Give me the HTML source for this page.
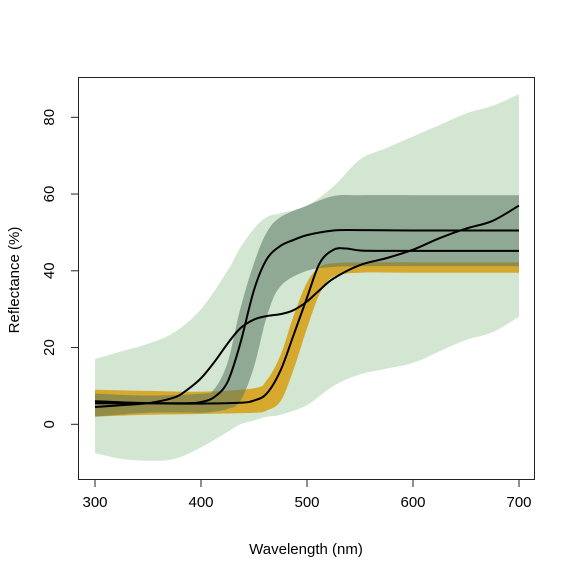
<!DOCTYPE html>
<html><head><meta charset="utf-8"><style>
body{margin:0;background:#fff}
svg{display:block;font-family:"Liberation Sans",Arial,sans-serif}
</style></head><body>
<svg id="chart" width="576" height="576" viewBox="0 0 576 576">
<g id="bands"></g>
<g id="lines"></g>
<rect x="78.5" y="77.5" width="456" height="402" fill="none" stroke="#222" stroke-width="1"/>
<g id="axes"></g>
<text x="306" y="554" font-size="15" text-anchor="middle">Wavelength (nm)</text>
<text transform="translate(19,280) rotate(-90)" font-size="15" text-anchor="middle">Reflectance (%)</text>
</svg>
<script>
// data
const lightWl    = [300,325,350,375,400,425,437,450,462,475,500,525,550,575,600,625,650,675,700];
const lightUpper = [17,19,21,24,30,40,46,51,54,55,57,62,69,72,75,78,81,83,86];
const lightLower = [-7.5,-9,-9.5,-9,-6,-2,0,1,2,2.5,5,10,13,14.5,16,19,22,24,28];
const goldWl     = [300,350,400,450,462,475,487,500,512,525,550,600,650,700];
const goldUpper  = [9,8.7,8.5,9.4,11.5,18,28,37,41,42,42.2,42.2,42.2,42.2];
const goldLower  = [2,2.5,2.7,3,3.6,6,14,25,34,38.5,39.5,39.5,39.5,39.5];
const darkWl     = [300,350,400,412,425,437,450,462,475,500,525,550,600,650,700];
const darkUpper  = [8,7.5,8,9,16,30,42,50,54,57,59.5,59.7,59.7,59.7,59.7];
const darkLower  = [2,3,3,3.3,4,6,15,28,36,40,41,41.2,41.2,41.2,41.2];
const lineAWl    = [300,350,387,400,412,425,437,450,462,475,487,500,525,550,600,650,700];
const lineAVals  = [5.5,5.5,5.5,5.8,7,11,21,35,43,46.5,48,49.3,50.5,50.6,50.5,50.5,50.5];
const lineBWl    = [300,350,400,437,450,462,475,487,500,512,525,537,550,575,600,650,700];
const lineBVals  = [6,5.5,5.4,5.6,6.2,8,14,23,33,42,45.5,45.8,45.3,45.2,45.2,45.2,45.2];
const lineCWl    = [300,325,350,375,387,400,412,425,437,450,462,475,487,500,512,525,550,575,600,625,650,675,700];
const lineCVals  = [4.5,5,5.5,7,9,12,16,21,25,27.3,28.2,28.7,29.7,32,35,38,41.5,43.3,45.5,48.5,51,53,57];
const xTicks = [300,400,500,600,700];
const yTicks = [0,20,40,60,80];

const sx = w => 95 + (w-300)*(519-95)/400;
const sy = v => 424.3 - v*(424.3-117.3)/80;
const NS = "http://www.w3.org/2000/svg";

function smooth(pts){
  let d = "M"+pts[0][0]+","+pts[0][1];
  for(let i=0;i<pts.length-1;i++){
    const p0=pts[Math.max(i-1,0)],p1=pts[i],p2=pts[i+1],p3=pts[Math.min(i+2,pts.length-1)];
    const c1=[p1[0]+(p2[0]-p0[0])/6,p1[1]+(p2[1]-p0[1])/6];
    const c2=[p2[0]-(p3[0]-p1[0])/6,p2[1]-(p3[1]-p1[1])/6];
    d+=" C"+c1[0]+","+c1[1]+" "+c2[0]+","+c2[1]+" "+p2[0]+","+p2[1];
  }
  return d;
}
function bandPath(wl,up,lo){
  const top = wl.map((w,i)=>[sx(w),sy(up[i])]);
  const bot = wl.map((w,i)=>[sx(w),sy(lo[i])]).reverse();
  return smooth(top)+" L"+bot[0][0]+","+bot[0][1]+smooth(bot).replace(/^M[^ C]*/,"")+" Z";
}
const bands=document.getElementById("bands");
function addBand(name,wl,up,lo,fill,op){
  const p=document.createElementNS(NS,"path");
  p.setAttribute("d",bandPath(wl,up,lo));
  p.setAttribute("fill",fill);
  p.setAttribute("fill-opacity",op);
  
  
  bands.appendChild(p);
}
addBand("light-green-band",lightWl,lightUpper,lightLower,"#d2e6d2",1);
addBand("gold-band",goldWl,goldUpper,goldLower,"#d6a92e",1);
addBand("dark-band",darkWl,darkUpper,darkLower,"#5a7660",0.55);

const lines=document.getElementById("lines");
function addLine(name,wl,vals){
  const p=document.createElementNS(NS,"path");
  p.setAttribute("d",smooth(wl.map((w,i)=>[sx(w),sy(vals[i])])));
  p.setAttribute("fill","none");
  p.setAttribute("stroke","#000");
  p.setAttribute("stroke-width","2");
  
  
  lines.appendChild(p);
}
addLine("mean-line-a",lineAWl,lineAVals);
addLine("mean-line-b",lineBWl,lineBVals);
addLine("mean-line-c",lineCWl,lineCVals);

const axes=document.getElementById("axes");
function el(tag,attrs,txt){
  const e=document.createElementNS(NS,tag);
  for(const k in attrs) e.setAttribute(k,attrs[k]);
  if(txt!==undefined) e.textContent=txt;
  axes.appendChild(e); return e;
}
xTicks.forEach(t=>{
  const x=sx(t);
  const l=el("line",{x1:x,x2:x,y1:479.5,y2:487,stroke:"#222"});
  
  
  const tx=el("text",{x:x,y:507,"font-size":15,"text-anchor":"middle"},t);
  
  
});
yTicks.forEach(t=>{
  const y=sy(t);
  const l=el("line",{x1:71,x2:78.5,y1:y,y2:y,stroke:"#222"});
  
  
  const tx=el("text",{transform:"translate(54,"+y+") rotate(-90)","font-size":15,"text-anchor":"middle"},t);
  
  
});
</script>
</body></html>
